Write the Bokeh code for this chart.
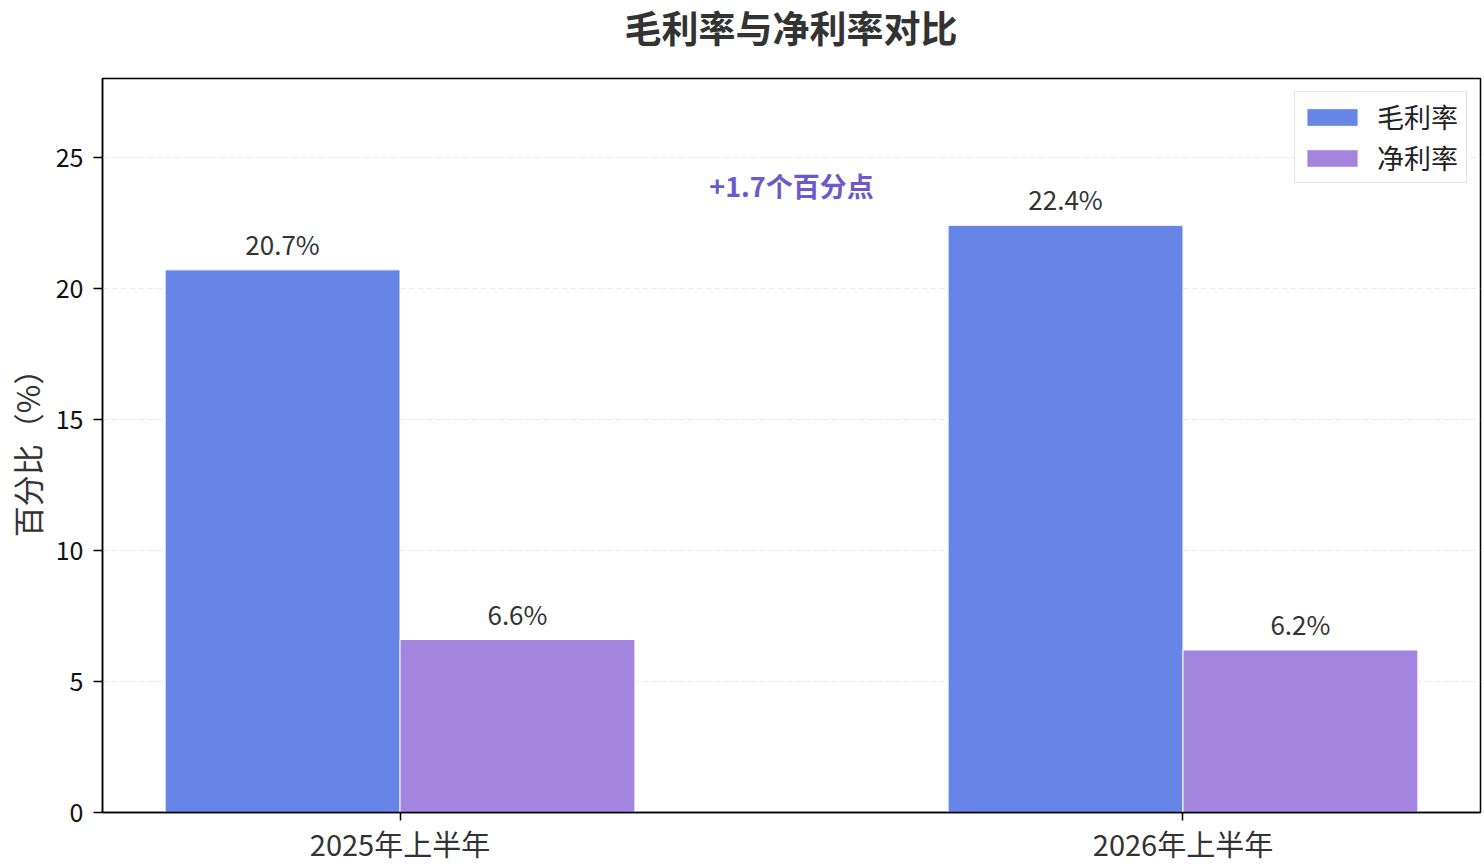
from bokeh.plotting import figure
from bokeh.models import ColumnDataSource, Range1d, FixedTicker, Legend, LegendItem, Label, Div
from bokeh.layouts import column
from bokeh.embed import file_html
from bokeh.resources import INLINE
from bokeh.core.properties import value
import numpy as np

# ---- data ----
title_text = "毛利率与净利率对比"
periods = ["2025年上半年", "2026年上半年"]
gross_margin = [20.7, 22.4]
net_margin = [6.6, 6.2]
y_ticks = [0, 5, 10, 15, 20, 25]
series_names = ["毛利率", "净利率"]

FONT = "Noto Sans CJK SC"
BLUE = "#6685E6"
PURPLE = "#A385E0"

idx = np.arange(len(periods))
w = 0.3

src_g = ColumnDataSource(dict(x=idx - w / 2, top=gross_margin,
                              lab=[f"{v:.1f}%" for v in gross_margin],
                              ly=np.array(gross_margin) + 0.3))
src_n = ColumnDataSource(dict(x=idx + w / 2, top=net_margin,
                              lab=[f"{v:.1f}%" for v in net_margin],
                              ly=np.array(net_margin) + 0.3))

title_div = Div(text=title_text, width=1378, height=70, margin=(0, 4, 0, 102),
                styles={"font-family": FONT, "font-size": "37px", "font-weight": "bold",
                        "color": "#333333", "text-align": "center", "line-height": "54px"})

p = figure(width=1484, height=796, output_backend="svg", toolbar_location=None,
           x_range=Range1d(-0.38, 1.38), y_range=Range1d(0, 28),
           min_border_left=102, min_border_right=4, min_border_top=8, min_border_bottom=53)

r1 = p.vbar(x="x", top="top", width=w, bottom=0, source=src_g,
            fill_color=BLUE, line_color="white", line_width=1)
r2 = p.vbar(x="x", top="top", width=w, bottom=0, source=src_n,
            fill_color=PURPLE, line_color="white", line_width=1)

for s in (src_g, src_n):
    p.text(x="x", y="ly", text="lab", source=s, text_align="center",
           text_baseline="bottom", text_font=value(FONT), text_font_size="26px",
           text_color="#333333")

diff = gross_margin[1] - gross_margin[0]
p.add_layout(Label(x=0.5, y=max(gross_margin) + 1.5, text=f"+{diff:.1f}个百分点",
                   text_align="center", text_baseline="middle", text_font=FONT,
                   text_font_size="27px", text_font_style="bold", text_color="#6A5ACD"))

# axes
p.xaxis.ticker = FixedTicker(ticks=list(idx))
p.xaxis.major_label_overrides = {int(i): periods[i] for i in idx}
p.xaxis.major_label_text_font = FONT
p.xaxis.major_label_text_font_size = "29px"
p.xaxis.major_label_text_color = "#333333"
p.xaxis.minor_tick_line_color = None
p.xaxis.major_tick_out = 8
p.xaxis.major_tick_in = 0
p.xaxis.major_label_standoff = 1

p.yaxis.ticker = FixedTicker(ticks=y_ticks)
p.yaxis.major_label_text_font = FONT
p.yaxis.major_label_text_font_size = "25px"
p.yaxis.major_label_text_color = "#111111"
p.yaxis.minor_tick_line_color = None
p.yaxis.major_tick_out = 9
p.yaxis.major_tick_in = 0
p.yaxis.major_label_standoff = 10
p.yaxis.axis_label = "百分比（%）"
p.yaxis.axis_label_text_font = FONT
p.yaxis.axis_label_text_font_size = "31px"
p.yaxis.axis_label_text_font_style = "normal"
p.yaxis.axis_label_text_color = "#333333"
p.yaxis.axis_label_standoff = 4

for ax in (p.xaxis, p.yaxis):
    ax.axis_line_color = "black"
    ax.axis_line_width = 1.5
    ax.major_tick_line_color = "black"
    ax.major_tick_line_width = 1.5

p.xgrid.grid_line_color = None
p.ygrid.grid_line_color = "#dddddd"
p.ygrid.grid_line_alpha = 0.6
p.ygrid.grid_line_dash = "6 3"

p.outline_line_color = "black"
p.outline_line_width = 1.5
p.outline_line_alpha = 1

legend = Legend(items=[LegendItem(label=series_names[0], renderers=[r1]),
                       LegendItem(label=series_names[1], renderers=[r2])],
                location="top_right")
legend.label_text_font = FONT
legend.label_text_font_size = "27px"
legend.label_text_color = "#222222"
legend.glyph_width = 64
legend.glyph_height = 22
legend.label_standoff = 13
legend.label_width = 84
legend.spacing = 2
legend.padding = 5
legend.margin = 13
legend.border_line_color = "#cccccc"
legend.border_line_width = 1.5
legend.background_fill_alpha = 0.9
p.add_layout(legend)

layout = column(title_div, p, spacing=0)
open("out.html", "w").write(file_html(layout, INLINE))
